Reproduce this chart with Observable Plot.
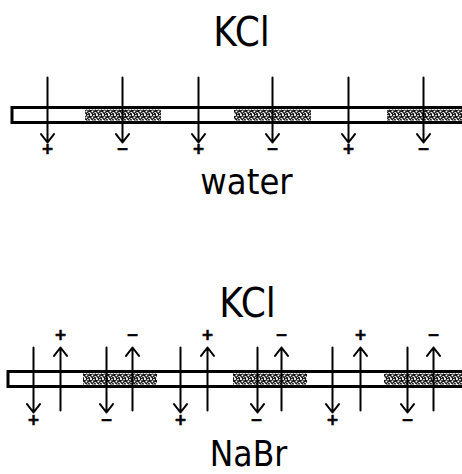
<!DOCTYPE html>
<html>
<head>
<meta charset="utf-8">
<script src="https://cdn.jsdelivr.net/npm/d3@7"></script>
<script src="https://cdn.jsdelivr.net/npm/@observablehq/plot@0.6"></script>
<style>
  html, body { margin: 0; padding: 0; background: #fff; }
  #chart svg { display: block; }
</style>
</head>
<body>
<div id="chart"></div>
<script>
// ---- data (page coordinates of the hand-drawn diagram) ----
const panels = ["top", "bottom"];
const barTop = [107.5, 371.5];
const barBottom = [122.5, 386.5];
const segmentEdgesTop = [12, 84, 162, 233, 312, 386, 470];
const segmentEdgesBottom = [8, 82, 158, 232, 308, 383, 470];
const segmentKinds = ["open", "stippled", "open", "stippled", "open", "stippled"];
const signs = ["+", "−", "+", "−", "+", "−"];

const downArrowXTop = [47, 122, 198, 272, 348, 423];
const downArrowYTop = [77, 142];
const signYTop = 149;

const downArrowXBottom = [33, 106, 180, 257, 332, 407];
const downArrowYBottom = [347, 412];
const downSignXBottom = [33, 106, 180, 256, 332, 407];
const downSignYBottom = 420;

const upArrowXBottom = [60, 132, 207, 281, 360, 433];
const upArrowYBottom = [410, 347];
const upSignYBottom = 335;

const labelTexts = ["KCl", "water", "KCl", "NaBr"];
const labelX = [241, 246, 247, 248];
const labelY = [45, 193, 316, 465];
const labelSize = [40, 36, 40, 35];

// ---- tables built from the arrays ----
const bars = panels.map((p, i) => ({
  x1: (i === 0 ? segmentEdgesTop : segmentEdgesBottom)[0],
  x2: 475, y1: barTop[i], y2: barBottom[i]
}));
const stipples = [];
panels.forEach((p, i) => {
  const e = i === 0 ? segmentEdgesTop : segmentEdgesBottom;
  segmentKinds.forEach((k, j) => {
    if (k === "stippled") stipples.push({x1: e[j] + 1, x2: e[j + 1] - 1, y1: barTop[i] + 2, y2: barBottom[i] - 2});
  });
});
const arrows = [
  ...downArrowXTop.map(x => ({x, y1: downArrowYTop[0], y2: downArrowYTop[1]})),
  ...downArrowXBottom.map(x => ({x, y1: downArrowYBottom[0], y2: downArrowYBottom[1]})),
  ...upArrowXBottom.map(x => ({x, y1: upArrowYBottom[0], y2: upArrowYBottom[1]}))
];
const signMarks = [
  ...downArrowXTop.map((x, i) => ({x, y: signYTop, s: signs[i]})),
  ...downSignXBottom.map((x, i) => ({x, y: downSignYBottom, s: signs[i]})),
  ...upArrowXBottom.map((x, i) => ({x, y: upSignYBottom, s: signs[i]}))
];
const labels = labelTexts.map((t, i) => ({t, x: labelX[i], y: labelY[i], size: labelSize[i]}));

const chart = Plot.plot({
  width: 462,
  height: 474,
  margin: 0,
  x: {domain: [0, 462], range: [0, 462], axis: null},
  y: {domain: [0, 474], range: [0, 474], axis: null},
  style: {background: "#fff"},
  marks: [
    Plot.rect(bars, {x1: "x1", x2: "x2", y1: "y1", y2: "y2", fill: "#fff", stroke: "#000", strokeWidth: 3}),
    Plot.rect(stipples, {x1: "x1", x2: "x2", y1: "y1", y2: "y2", fill: "url(#stipple)"}),
    Plot.arrow(arrows, {x1: "x", x2: "x", y1: "y1", y2: "y2", stroke: "#000", strokeWidth: 2, headLength: 8, headAngle: 75}),
    ...labels.map(l => Plot.text([l], {x: "x", y: "y", text: "t", fontSize: l.size, lineAnchor: "bottom", textAnchor: "middle", fill: "#000", fontFamily: "DejaVu Sans Condensed, DejaVu Sans, sans-serif"})),
    Plot.text(signMarks, {x: "x", y: "y", text: "s", fontSize: 15, fontWeight: "bold", lineAnchor: "middle", textAnchor: "middle", fill: "#000", stroke: "#000", strokeWidth: 0.6, fontFamily: "DejaVu Sans, sans-serif"})
  ]
});

// stipple pattern definition
const ns = "http://www.w3.org/2000/svg";
const defs = document.createElementNS(ns, "defs");
const pat = document.createElementNS(ns, "pattern");
pat.setAttribute("id", "stipple");
pat.setAttribute("width", "6");
pat.setAttribute("height", "6");
pat.setAttribute("patternUnits", "userSpaceOnUse");
const bg = document.createElementNS(ns, "rect");
bg.setAttribute("width", "6"); bg.setAttribute("height", "6"); bg.setAttribute("fill", "#111");
pat.appendChild(bg);
[[1, 1, 1.1], [4, 1.6, 0.9], [2.4, 3.6, 1.0], [5.2, 4.6, 0.8], [0.6, 5.2, 0.7], [3.6, 5.6, 0.5]].forEach(([cx, cy, r]) => {
  const c = document.createElementNS(ns, "circle");
  c.setAttribute("cx", cx); c.setAttribute("cy", cy); c.setAttribute("r", r); c.setAttribute("fill", "#fff");
  pat.appendChild(c);
});
defs.appendChild(pat);
chart.insertBefore(defs, chart.firstChild);

document.getElementById("chart").appendChild(chart);
</script>
</body>
</html>
